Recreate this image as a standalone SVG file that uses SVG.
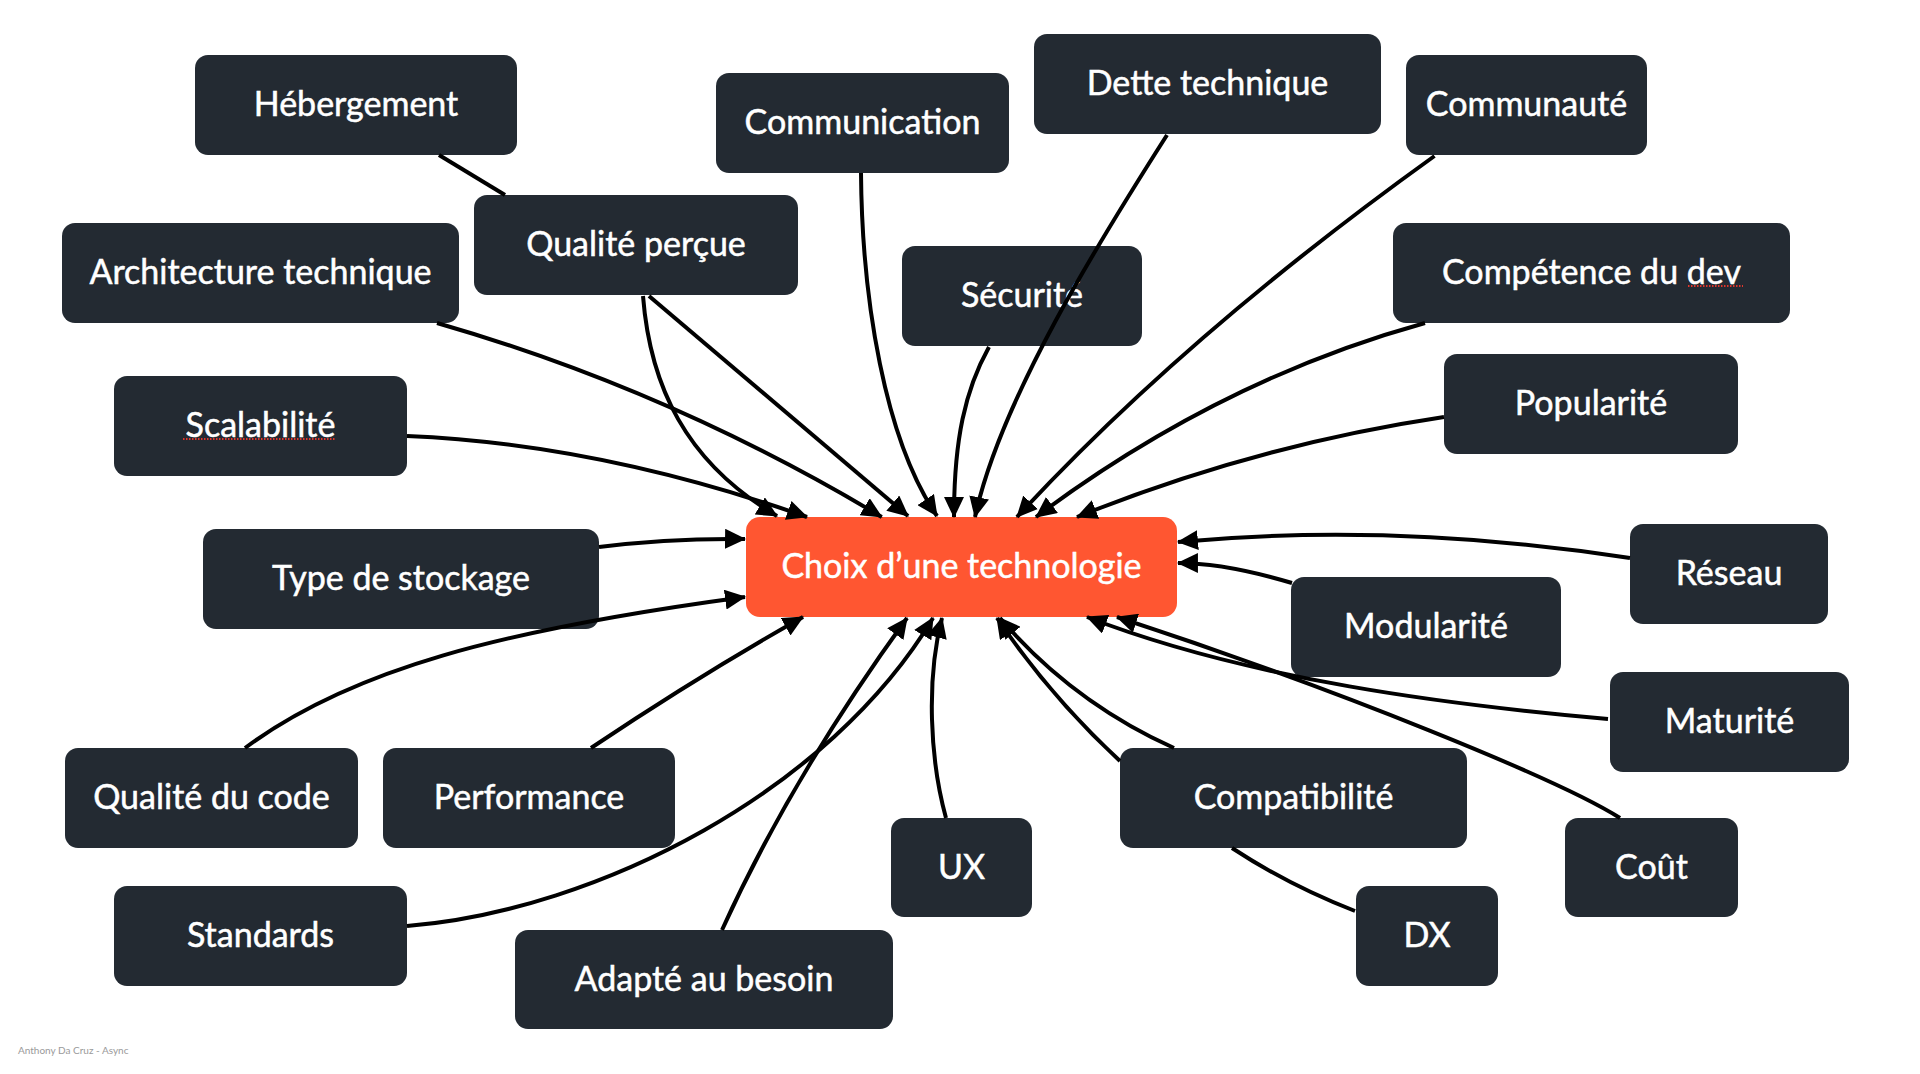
<svg xmlns="http://www.w3.org/2000/svg" width="1920" height="1074" viewBox="0 0 1920 1074">
<defs>
<style>
.node rect{fill:#232a32;}
.center rect{fill:#ff5631;}
text.lbl{font-family:Lato,"Noto Sans","Liberation Sans",sans-serif;font-size:34px;fill:#ffffff;text-anchor:middle;stroke:#ffffff;stroke-width:0.5px;}
.edges path{fill:none;stroke:#000;stroke-width:4;}
.spell{stroke:#e0352b;stroke-width:2;stroke-dasharray:1.5 1.5;fill:none;}
</style>
<marker id="arr" viewBox="0 0 20 19" refX="19" refY="9.5" markerWidth="21" markerHeight="20" markerUnits="userSpaceOnUse" orient="auto">
<path d="M0,0 L20,9.5 L0,19 z" fill="#000"/>
</marker>
</defs>
<rect x="0" y="0" width="1920" height="1074" fill="#ffffff"/>

<g id="n-hebergement" class="node"><rect x="195" y="55" width="322" height="100" rx="13"/><text class="lbl" x="356" y="116">Hébergement</text></g>
<g id="n-communication" class="node"><rect x="716" y="73" width="293" height="100" rx="13"/><text class="lbl" x="862.5" y="134">Communication</text></g>
<g id="n-dette" class="node"><rect x="1034" y="34" width="347" height="100" rx="13"/><text class="lbl" x="1207.5" y="95">Dette technique</text></g>
<g id="n-communaute" class="node"><rect x="1406" y="55" width="241" height="100" rx="13"/><text class="lbl" x="1526.5" y="116">Communauté</text></g>
<g id="n-qualite-percue" class="node"><rect x="474" y="195" width="324" height="100" rx="13"/><text class="lbl" x="636" y="256">Qualité perçue</text></g>
<g id="n-architecture" class="node"><rect x="62" y="223" width="397" height="100" rx="13"/><text class="lbl" x="260.5" y="284">Architecture technique</text></g>
<g id="n-securite" class="node"><rect x="902" y="246" width="240" height="100" rx="13"/><text class="lbl" x="1022" y="307">Sécurité</text></g>
<g id="n-competence" class="node"><rect x="1393" y="223" width="397" height="100" rx="13"/><text class="lbl" x="1591.5" y="284">Compétence du dev</text><path class="spell" d="M1688,286 L1743,286"/></g>
<g id="n-scalabilite" class="node"><rect x="114" y="376" width="293" height="100" rx="13"/><text class="lbl" x="260.5" y="437">Scalabilité</text><path class="spell" d="M183,439 L336,439"/></g>
<g id="n-popularite" class="node"><rect x="1444" y="354" width="294" height="100" rx="13"/><text class="lbl" x="1591" y="415">Popularité</text></g>
<g id="n-stockage" class="node"><rect x="203" y="529" width="396" height="100" rx="13"/><text class="lbl" x="401" y="590">Type de stockage</text></g>
<g id="n-choix" class="center"><rect x="746" y="517" width="431" height="100" rx="14"/><text class="lbl" x="961.5" y="578">Choix d’une technologie</text></g>
<g id="n-reseau" class="node"><rect x="1630" y="524" width="198" height="100" rx="13"/><text class="lbl" x="1729" y="585">Réseau</text></g>
<g id="n-modularite" class="node"><rect x="1291" y="577" width="270" height="100" rx="13"/><text class="lbl" x="1426" y="638">Modularité</text></g>
<g id="n-maturite" class="node"><rect x="1610" y="672" width="239" height="100" rx="13"/><text class="lbl" x="1729.5" y="733">Maturité</text></g>
<g id="n-qualite-code" class="node"><rect x="65" y="748" width="293" height="100" rx="13"/><text class="lbl" x="211.5" y="809">Qualité du code</text></g>
<g id="n-performance" class="node"><rect x="383" y="748" width="292" height="100" rx="13"/><text class="lbl" x="529" y="809">Performance</text></g>
<g id="n-compatibilite" class="node"><rect x="1120" y="748" width="347" height="100" rx="13"/><text class="lbl" x="1293.5" y="809">Compatibilité</text></g>
<g id="n-ux" class="node"><rect x="891" y="818" width="141" height="99" rx="13"/><text class="lbl" x="961.5" y="878.5">UX</text></g>
<g id="n-cout" class="node"><rect x="1565" y="818" width="173" height="99" rx="13"/><text class="lbl" x="1651.5" y="878.5">Coût</text></g>
<g id="n-standards" class="node"><rect x="114" y="886" width="293" height="100" rx="13"/><text class="lbl" x="260.5" y="947">Standards</text></g>
<g id="n-dx" class="node"><rect x="1356" y="886" width="142" height="100" rx="13"/><text class="lbl" x="1427" y="947">DX</text></g>
<g id="n-adapte" class="node"><rect x="515" y="930" width="378" height="99" rx="13"/><text class="lbl" x="704" y="990.5">Adapté au besoin</text></g>

<g id="connectors" class="edges">
<path d="M439,155 L505,195"/>
<path d="M437,323 Q670,390 881.7,517" marker-end="url(#arr)"/>
<path d="M643,296 C650,385 685,462 777,516" marker-end="url(#arr)"/>
<path d="M649,296 L908,516" marker-end="url(#arr)"/>
<path d="M407,436 Q599,444 807,517" marker-end="url(#arr)"/>
<path d="M861,173 C862,300 885,440 937,516" marker-end="url(#arr)"/>
<path d="M989,347 C965,390 954,440 954,517" marker-end="url(#arr)"/>
<path d="M1167,135 C1100,240 1000,400 975,517" marker-end="url(#arr)"/>
<path d="M1434.5,156 Q1184,336 1017,517" marker-end="url(#arr)"/>
<path d="M1425,323 Q1219,380 1036,517" marker-end="url(#arr)"/>
<path d="M1444,417 Q1256,445 1077,517" marker-end="url(#arr)"/>
<path d="M599,547 Q670,538 745,539" marker-end="url(#arr)"/>
<path d="M245,748 C350,670 500,630 745,597" marker-end="url(#arr)"/>
<path d="M591,748 Q700,675 803,617" marker-end="url(#arr)"/>
<path d="M407,926 C600,910 830,790 933,618" marker-end="url(#arr)"/>
<path d="M722,930 Q791,778 907,618" marker-end="url(#arr)"/>
<path d="M946,818 C930,760 926,680 942,618" marker-end="url(#arr)"/>
<path d="M1120,761 Q1050,696 997,618" marker-end="url(#arr)"/>
<path d="M1174,748 Q1072,702 1000,618" marker-end="url(#arr)"/>
<path d="M1355,911 Q1290,886 1232,848"/>
<path d="M1608,719 C1450,705 1250,680 1087,617" marker-end="url(#arr)"/>
<path d="M1620,818 C1560,780 1340,690 1117,617" marker-end="url(#arr)"/>
<path d="M1630,558 Q1396,522 1178,542" marker-end="url(#arr)"/>
<path d="M1292,583 Q1225,563 1178,563" marker-end="url(#arr)"/>
</g>

<text x="18" y="1054" font-family="Lato,'Liberation Sans',sans-serif" font-size="10" fill="#9a9a9a">Anthony Da Cruz - Async</text>
</svg>
